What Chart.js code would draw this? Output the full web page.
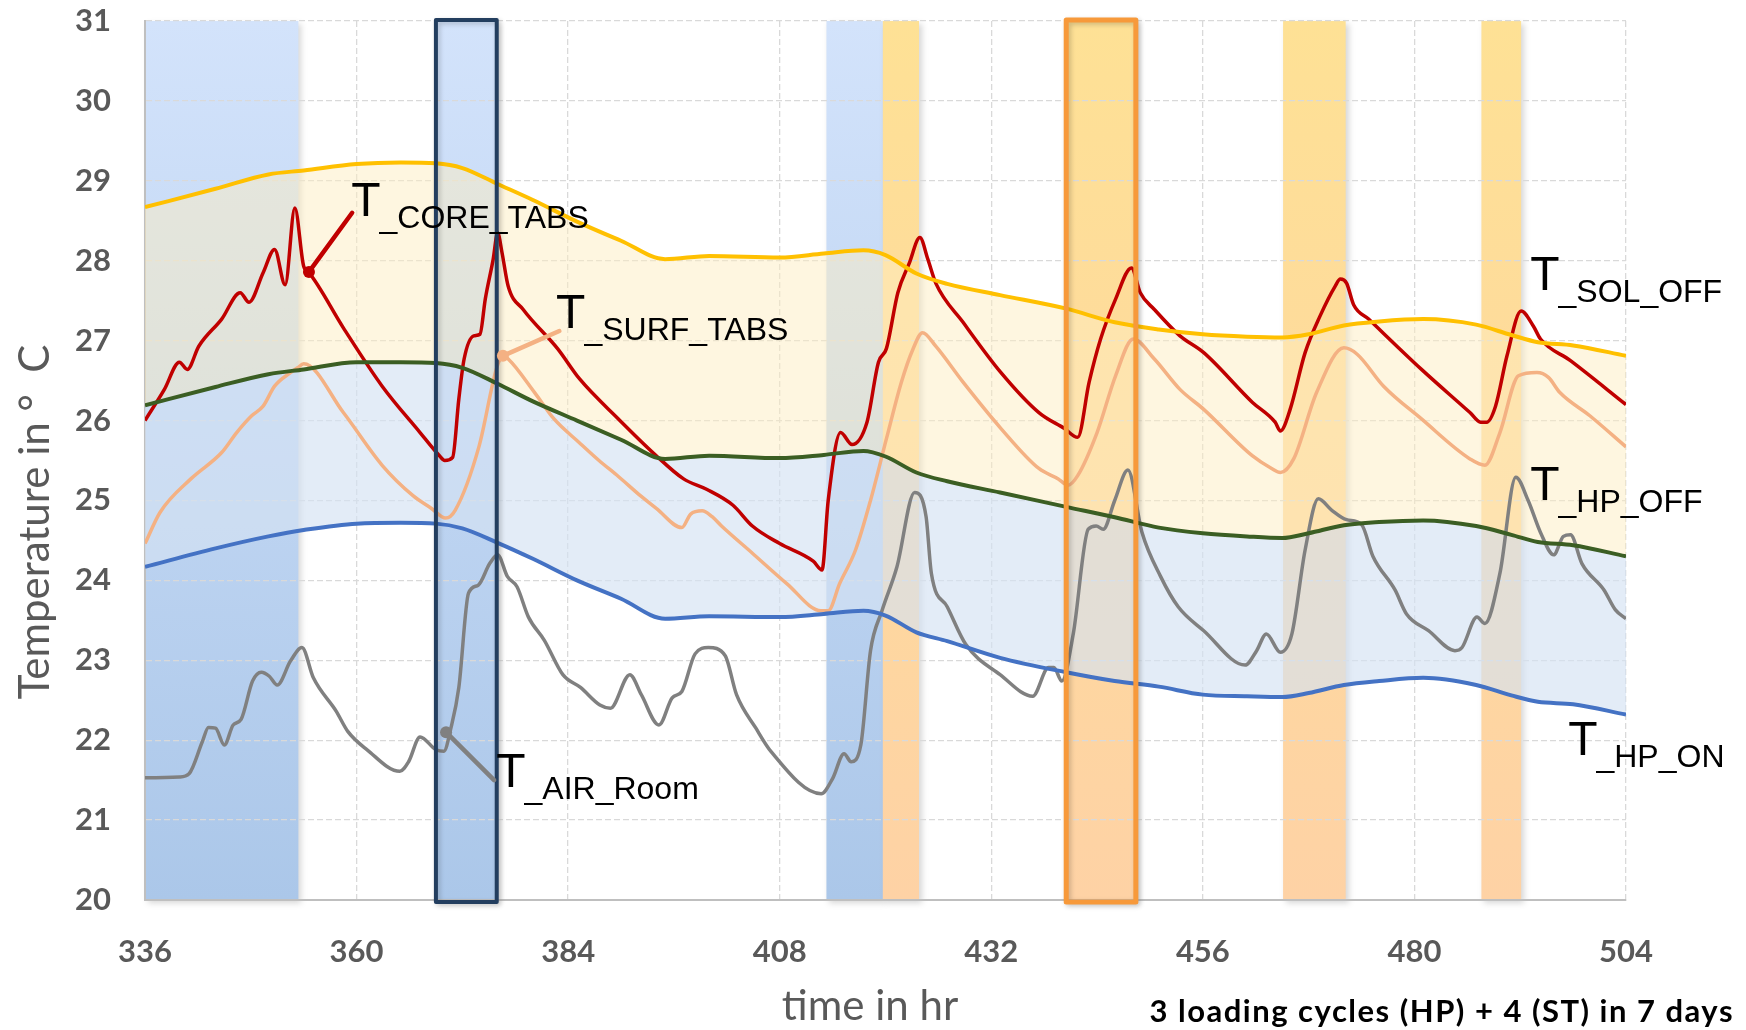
<!DOCTYPE html>
<html>
<head>
<meta charset="utf-8">
<script src="https://cdn.jsdelivr.net/npm/chart.js@4.4.1/dist/chart.umd.min.js"></script>
<style>
  html, body { margin: 0; padding: 0; background: #fff; }
  #wrap { width: 1746px; height: 1030px; position: relative; }
</style>
</head>
<body>
<div id="wrap"><canvas id="myChart"></canvas></div>
<script>
// axis ticks
const xTicks = [336, 360, 384, 408, 432, 456, 480, 504];
const yTicks = [20, 21, 22, 23, 24, 25, 26, 27, 28, 29, 30, 31];

// reference temperatures (shared time base, hr)
const refHours = [336, 344, 350, 354, 360, 365, 369, 372, 376, 380, 385, 390, 395, 400, 408, 413, 417.5, 420, 423.5, 427, 433, 440.5, 446, 451, 456, 461, 465, 468, 472, 476, 481, 487, 491, 494, 498, 504];
const solOff = [28.67, 28.9, 29.08, 29.13, 29.21, 29.23, 29.22, 29.16, 28.96, 28.76, 28.49, 28.25, 28.02, 28.06, 28.04, 28.09, 28.13, 28.07, 27.84, 27.71, 27.57, 27.4, 27.23, 27.14, 27.08, 27.05, 27.04, 27.08, 27.19, 27.24, 27.27, 27.2, 27.07, 26.98, 26.94, 26.81];
const hpOff = [26.19, 26.42, 26.58, 26.64, 26.73, 26.73, 26.72, 26.66, 26.46, 26.24, 26.0, 25.76, 25.52, 25.56, 25.53, 25.57, 25.62, 25.55, 25.35, 25.24, 25.1, 24.92, 24.79, 24.66, 24.59, 24.55, 24.53, 24.59, 24.69, 24.73, 24.75, 24.68, 24.57, 24.48, 24.44, 24.3];
const hpOn = [24.17, 24.4, 24.55, 24.63, 24.71, 24.72, 24.71, 24.65, 24.47, 24.27, 24.0, 23.77, 23.52, 23.55, 23.54, 23.58, 23.62, 23.56, 23.35, 23.24, 23.03, 22.85, 22.74, 22.67, 22.57, 22.55, 22.54, 22.59, 22.69, 22.74, 22.78, 22.69, 22.56, 22.48, 22.45, 22.32];

// TABS core
const coreHours = [336, 338.2, 339.9, 340.8, 342.1, 344.7, 346.8, 347.8, 349.4, 350.7, 351.9, 353.0, 354.0, 354.6, 358.5, 362.9, 367.2, 369.4, 370.0, 370.9, 371.6, 372.2, 373.3, 374.0, 374.6, 375.5, 376.0, 376.5, 377.2, 378.9, 382.8, 385.3, 389.7, 394.0, 397.1, 399.7, 402.7, 404.9, 408.0, 411.8, 412.8, 413.5, 414.9, 416.2, 417.9, 419.2, 420.1, 421.4, 422.7, 423.9, 424.8, 425.7, 428.8, 433.1, 437.4, 440.3, 441.8, 443.1, 444.4, 446.1, 447.9, 448.9, 450.5, 453.4, 456.1, 461.6, 464.2, 464.8, 465.9, 467.6, 469.3, 471.0, 471.6, 472.3, 473.1, 474.8, 480.8, 486.3, 487.5, 488.2, 489.2, 490.5, 492.1, 493.5, 494.3, 497.7, 504];
const coreTemps = [26.0, 26.39, 26.73, 26.64, 26.93, 27.27, 27.6, 27.48, 27.85, 28.14, 27.7, 28.66, 27.93, 27.85, 27.16, 26.43, 25.85, 25.56, 25.5, 25.54, 26.27, 26.77, 27.06, 27.08, 27.52, 28.02, 28.35, 28.1, 27.68, 27.39, 26.9, 26.52, 26.02, 25.56, 25.27, 25.14, 24.94, 24.68, 24.46, 24.24, 24.13, 25.0, 25.85, 25.7, 25.98, 26.73, 26.9, 27.6, 27.97, 28.29, 28.02, 27.72, 27.23, 26.6, 26.1, 25.9, 25.79, 26.48, 27.02, 27.52, 27.91, 27.6, 27.39, 27.06, 26.85, 26.23, 25.98, 25.87, 26.14, 26.85, 27.31, 27.68, 27.77, 27.72, 27.45, 27.27, 26.64, 26.1, 25.98, 25.98, 26.18, 26.81, 27.37, 27.18, 27.02, 26.75, 26.2];

// TABS surface
const surfHours = [336, 337.7, 341.2, 344.7, 346.4, 348.1, 349.4, 350.7, 352.5, 353.3, 354.0, 358.5, 362.9, 366.4, 368.5, 370.1, 371.2, 373.9, 375.9, 376.6, 377.2, 380.2, 382.4, 385.3, 387.5, 389.7, 392.3, 394.0, 396.9, 397.9, 399.2, 400.3, 401.4, 404.9, 408.8, 412.7, 413.5, 414.8, 416.6, 418.3, 420.1, 421.8, 423.1, 424.2, 425.7, 428.8, 433.1, 437.4, 439.6, 440.7, 441.8, 444.0, 446.1, 448.1, 450.5, 453.4, 456.1, 461.6, 463.8, 464.8, 466.3, 468.9, 472.0, 473.5, 476.5, 480.8, 486.3, 488.0, 489.7, 491.8, 493.9, 495.2, 496.5, 499.9, 504];
const surfTemps = [24.46, 24.85, 25.27, 25.6, 25.85, 26.06, 26.18, 26.43, 26.6, 26.66, 26.71, 26.1, 25.44, 25.06, 24.9, 24.78, 24.88, 25.68, 26.66, 26.81, 26.77, 26.35, 26.02, 25.72, 25.5, 25.3, 25.05, 24.9, 24.66, 24.83, 24.87, 24.8, 24.68, 24.34, 23.96, 23.62, 23.62, 23.96, 24.38, 25.0, 25.77, 26.48, 26.89, 27.1, 26.93, 26.48, 25.9, 25.4, 25.27, 25.19, 25.31, 25.85, 26.56, 27.02, 26.77, 26.39, 26.14, 25.56, 25.4, 25.35, 25.52, 26.35, 26.91, 26.83, 26.43, 26.02, 25.52, 25.44, 25.85, 26.56, 26.6, 26.54, 26.35, 26.06, 25.67];

// room air
const airHours = [336, 339.9, 341.0, 342.5, 343.2, 344.0, 345.0, 346.0, 346.9, 348.2, 349.2, 350.1, 351.0, 352.5, 353.8, 355.1, 357.7, 359.0, 361.2, 364.9, 365.9, 367.2, 369.0, 369.9, 370.7, 371.6, 372.7, 373.8, 375.1, 376.0, 377.1, 378.2, 379.5, 381.3, 383.4, 385.4, 387.6, 388.8, 391.0, 392.3, 394.3, 395.8, 396.9, 398.4, 399.9, 401.8, 403.1, 405.3, 407.0, 412.7, 414.0, 415.3, 416.1, 417.2, 418.3, 419.6, 421.3, 423.3, 424.6, 425.2, 427.0, 429.1, 433.0, 436.7, 438.5, 439.1, 440.0, 441.3, 443.0, 443.9, 444.7, 446.0, 447.5, 449.1, 451.2, 453.2, 456.1, 460.8, 462.1, 463.2, 464.8, 466.1, 467.6, 469.1, 470.6, 472.3, 474.0, 475.3, 477.8, 479.1, 481.6, 484.6, 485.4, 487.1, 488.0, 489.7, 491.5, 492.9, 494.3, 495.8, 496.9, 497.7, 499.0, 501.5, 502.8, 504];
const airTemps = [21.53, 21.54, 21.58, 21.98, 22.16, 22.15, 21.94, 22.19, 22.26, 22.74, 22.85, 22.8, 22.69, 22.99, 23.16, 22.78, 22.36, 22.11, 21.88, 21.61, 21.73, 22.04, 21.88, 21.86, 22.15, 22.66, 23.84, 23.94, 24.21, 24.32, 24.05, 23.92, 23.54, 23.25, 22.82, 22.66, 22.44, 22.4, 22.82, 22.57, 22.19, 22.53, 22.61, 23.08, 23.16, 23.06, 22.57, 22.15, 21.86, 21.33, 21.52, 21.83, 21.73, 21.94, 23.12, 23.62, 24.17, 25.1, 24.8, 24.09, 23.67, 23.2, 22.82, 22.55, 22.91, 22.91, 22.74, 23.33, 24.64, 24.68, 24.64, 25.0, 25.38, 24.6, 24.05, 23.67, 23.37, 22.94, 23.12, 23.33, 23.1, 23.33, 24.38, 25.02, 24.88, 24.76, 24.7, 24.3, 23.88, 23.58, 23.37, 23.12, 23.16, 23.54, 23.46, 24.09, 25.29, 25.0, 24.6, 24.32, 24.55, 24.57, 24.21, 23.88, 23.63, 23.52];

// loading periods, hr (HP = heat pump, ST = solar thermal)
const hpPeriods = [[336, 353.4], [369.0, 375.9], [413.3, 419.7]];
const stPeriods = [[419.7, 423.8], [440.5, 448.4], [465.1, 472.2], [487.6, 492.1]];

const toPoints = (xs, ys) => xs.map((x, i) => ({ x: x, y: ys[i] }));

// framed periods and curve labels
const frames = [
  { period: hpPeriods[1], color: '#233e5f', width: 4 },
  { period: stPeriods[1], color: '#f7993a', width: 5 }
];
const curveLabels = [
  { sub: '_CORE_TABS', at: [359.5, 28.56], lead: [[359.5, 28.6], [354.6, 27.86]], color: '#c00000' },
  { sub: '_SURF_TABS', at: [382.75, 27.16], lead: [[383.0, 27.12], [376.6, 26.81]], color: '#f4b183' },
  { sub: '_AIR_Room', at: [375.95, 21.41], lead: [[375.6, 21.5], [370.15, 22.1]], color: '#808080' },
  { sub: '_SOL_OFF', at: [493.25, 27.63] },
  { sub: '_HP_OFF', at: [493.25, 25.0] },
  { sub: '_HP_ON', at: [497.55, 21.81] }
];

const bandsPlugin = {
  id: 'loadingBands',
  beforeDraw(chart) {
    const { ctx, chartArea: a, scales: { x } } = chart;
    const blue = ctx.createLinearGradient(0, a.top, 0, a.bottom);
    blue.addColorStop(0, '#d3e3fb');
    blue.addColorStop(1, '#abc7e9');
    const orange = ctx.createLinearGradient(0, a.top, 0, a.bottom);
    orange.addColorStop(0, '#fee195');
    orange.addColorStop(1, '#fed2a5');
    ctx.save();
    ctx.shadowColor = 'rgba(0,0,0,0.16)';
    ctx.shadowBlur = 6;
    ctx.shadowOffsetX = 3;
    ctx.shadowOffsetY = 3;
    const draw = (periods, fill) => periods.forEach(([s, e]) => {
      const x0 = x.getPixelForValue(s), x1 = x.getPixelForValue(e);
      ctx.fillStyle = fill;
      ctx.fillRect(x0, a.top, x1 - x0, a.bottom - a.top);
    });
    draw(hpPeriods, blue);
    draw(stPeriods, orange);
    ctx.restore();
  },
  afterDatasetsDraw(chart) {
    const { ctx, chartArea: a, scales: { x } } = chart;
    ctx.save();
    ctx.shadowColor = 'rgba(0,0,0,0.2)';
    ctx.shadowBlur = 5;
    ctx.shadowOffsetX = 2;
    ctx.shadowOffsetY = 2;
    frames.forEach(f => {
      const x0 = x.getPixelForValue(f.period[0]), x1 = x.getPixelForValue(f.period[1]);
      ctx.strokeStyle = f.color;
      ctx.lineWidth = f.width;
      ctx.lineJoin = 'round';
      ctx.strokeRect(x0, a.top - 1, x1 - x0, a.bottom - a.top + 3);
    });
    ctx.restore();
  }
};

const textPlugin = {
  id: 'curveText',
  afterDraw(chart) {
    const { ctx, scales: { x, y } } = chart;
    ctx.save();
    // leader lines with dots
    curveLabels.filter(l => l.lead).forEach(l => {
      const [p0, p1] = l.lead;
      ctx.strokeStyle = l.color;
      ctx.fillStyle = l.color;
      ctx.lineWidth = 4.5;
      ctx.lineCap = 'round';
      ctx.beginPath();
      ctx.moveTo(x.getPixelForValue(p0[0]), y.getPixelForValue(p0[1]));
      ctx.lineTo(x.getPixelForValue(p1[0]), y.getPixelForValue(p1[1]));
      ctx.stroke();
      ctx.beginPath();
      ctx.arc(x.getPixelForValue(p1[0]), y.getPixelForValue(p1[1]), 6, 0, Math.PI * 2);
      ctx.fill();
    });
    // T + subscript labels
    ctx.fillStyle = '#000';
    ctx.textAlign = 'left';
    ctx.textBaseline = 'alphabetic';
    curveLabels.forEach(l => {
      const px = x.getPixelForValue(l.at[0]) - 1, py = y.getPixelForValue(l.at[1]);
      ctx.font = '48px "Liberation Sans", Arial, sans-serif';
      ctx.fillText('T', px, py);
      const w = ctx.measureText('T').width;
      ctx.font = '32px "Liberation Sans", Arial, sans-serif';
      ctx.fillText(l.sub, px + w - 1, py + 12);
    });
    // axis titles
    ctx.fillStyle = '#595959';
    ctx.font = '42px Lato, "Open Sans", sans-serif';
    ctx.textAlign = 'center';
    ctx.fillText('time in hr', 870, 1020);
    ctx.save();
    ctx.translate(49, 522);
    ctx.rotate(-Math.PI / 2);
    ctx.fillText('Temperature in °  C', 0, 0);
    ctx.restore();
    // footnote
    ctx.fillStyle = '#000';
    ctx.font = 'bold 31px Lato, "Open Sans", sans-serif';
    ctx.letterSpacing = '1.5px';
    ctx.textAlign = 'right';
    ctx.fillText('3 loading cycles (HP) + 4 (ST) in 7 days', 1734, 1022);
    ctx.restore();
  }
};

const gridColor = '#d9d9d9';
const tickFont = { family: 'Lato, "Open Sans", sans-serif', size: 31, weight: 'bold' };

new Chart(document.getElementById('myChart'), {
  type: 'line',
  data: {
    datasets: [
      {
        label: 'T_SOL_OFF',
        data: toPoints(refHours, solOff),
        borderColor: '#ffc000',
        borderWidth: 4,
        fill: { target: 1, above: 'rgba(253,237,193,0.5)', below: 'rgba(253,237,193,0.5)' }
      },
      {
        label: 'T_HP_OFF',
        data: toPoints(refHours, hpOff),
        borderColor: '#3b5e23',
        borderWidth: 4,
        fill: { target: 2, above: 'rgba(212,226,243,0.65)', below: 'rgba(212,226,243,0.65)' }
      },
      {
        label: 'T_HP_ON',
        data: toPoints(refHours, hpOn),
        borderColor: '#4472c4',
        borderWidth: 4,
        fill: false
      },
      {
        label: 'T_CORE_TABS',
        data: toPoints(coreHours, coreTemps),
        borderColor: '#c00000',
        borderWidth: 3.5,
        fill: false
      },
      {
        label: 'T_SURF_TABS',
        data: toPoints(surfHours, surfTemps),
        borderColor: '#f4b183',
        borderWidth: 3.5,
        fill: false
      },
      {
        label: 'T_AIR_Room',
        data: toPoints(airHours, airTemps),
        borderColor: '#808080',
        borderWidth: 3.5,
        fill: false
      }
    ]
  },
  options: {
    responsive: true,
    maintainAspectRatio: false,
    animation: false,
    elements: {
      point: { radius: 0 },
      line: { cubicInterpolationMode: 'monotone' }
    },
    layout: { padding: { top: 21, right: 120, bottom: 0, left: 0 } },
    scales: {
      x: {
        type: 'linear',
        min: 336,
        max: 504,
        afterBuildTicks: s => { s.ticks = xTicks.map(v => ({ value: v })); },
        afterFit: s => { s.height = 130; s.paddingLeft = 0; s.paddingRight = 0; },
        grid: { color: gridColor, lineWidth: 1.3, drawTicks: false },
        border: { color: '#bfbfbf', width: 2, dash: [6, 3] },
        ticks: { font: tickFont, color: '#595959', padding: 33, maxRotation: 0 }
      },
      y: {
        type: 'linear',
        min: 20,
        max: 31,
        afterBuildTicks: s => { s.ticks = yTicks.map(v => ({ value: v })); },
        afterFit: s => { s.width = 145; s.paddingTop = 0; s.paddingBottom = 0; },
        grid: { color: gridColor, lineWidth: 1.3, drawTicks: false },
        border: { color: '#bfbfbf', width: 2, dash: [6, 3] },
        ticks: { font: tickFont, color: '#595959', padding: 34 }
      }
    },
    plugins: {
      legend: { display: false },
      tooltip: { enabled: false },
      filler: { drawTime: 'beforeDatasetsDraw' }
    }
  },
  plugins: [bandsPlugin, textPlugin]
});
</script>
</body>
</html>
